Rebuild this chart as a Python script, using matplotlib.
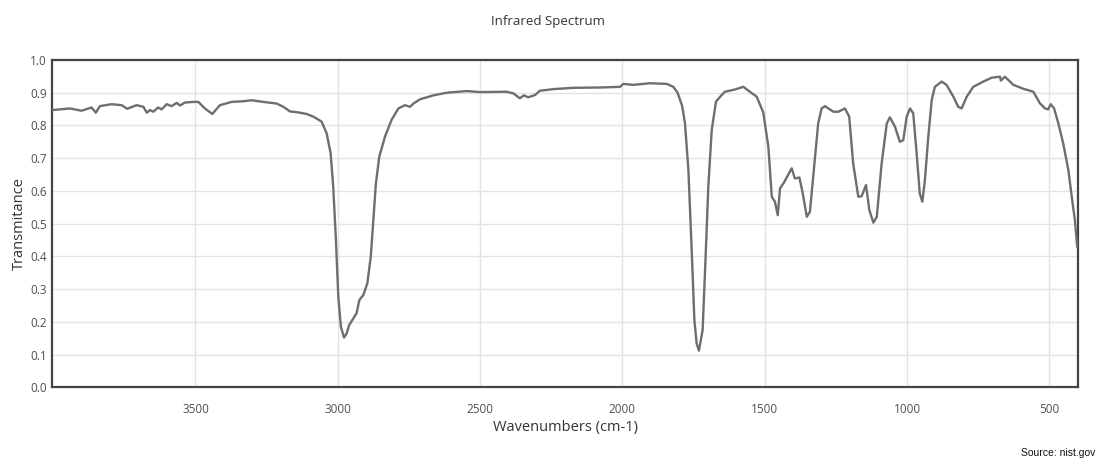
import matplotlib
matplotlib.use("Agg")
import matplotlib.pyplot as plt

wavenumbers = [4003, 3941, 3900, 3865, 3850, 3836, 3795, 3759, 3740, 3707, 3683, 3671, 3660, 3648,
               3631, 3619, 3601, 3584, 3566, 3554, 3537, 3508, 3490, 3467, 3441, 3414, 3373, 3332,
               3302, 3262, 3215, 3191, 3168, 3139, 3109, 3086, 3057, 3039, 3025, 3016, 3007, 2998,
               2989, 2978, 2969, 2960, 2945, 2934, 2924, 2910, 2896, 2884, 2875, 2866, 2854, 2834,
               2811, 2787, 2764, 2746, 2734, 2711, 2664, 2617, 2547, 2500, 2407, 2383, 2360, 2346,
               2331, 2307, 2290, 2243, 2173, 2079, 2008, 1997, 1962, 1903, 1844, 1821, 1806, 1790,
               1780, 1768, 1756, 1747, 1739, 1731, 1718, 1707, 1698, 1686, 1671, 1651, 1640, 1604,
               1575, 1552, 1528, 1505, 1487, 1475, 1464, 1454, 1446, 1434, 1405, 1394, 1378, 1366,
               1352, 1341, 1325, 1312, 1300, 1288, 1259, 1241, 1218, 1203, 1189, 1171, 1159, 1144,
               1132, 1118, 1106, 1089, 1071, 1060, 1042, 1025, 1013, 1001, 989, 978, 966, 955, 946,
               937, 925, 913, 902, 878, 861, 837, 820, 808, 790, 767, 732, 702, 673, 670, 656, 626,
               591, 556, 533, 515, 504, 495, 483, 468, 451, 433, 418, 410, 402]
transmittance = [0.847, 0.852, 0.845, 0.855, 0.839, 0.859, 0.865, 0.862, 0.851, 0.862, 0.857, 0.839,
                 0.847, 0.842, 0.855, 0.849, 0.865, 0.859, 0.869, 0.861, 0.870, 0.872, 0.872, 0.852,
                 0.835, 0.862, 0.872, 0.874, 0.877, 0.872, 0.867, 0.857, 0.843, 0.840, 0.835, 0.827,
                 0.812, 0.776, 0.715, 0.613, 0.460, 0.276, 0.185, 0.152, 0.164, 0.190, 0.211, 0.226,
                 0.267, 0.282, 0.318, 0.399, 0.511, 0.623, 0.705, 0.766, 0.817, 0.852, 0.862, 0.857,
                 0.867, 0.880, 0.892, 0.900, 0.905, 0.902, 0.903, 0.898, 0.883, 0.892, 0.886, 0.893,
                 0.906, 0.911, 0.915, 0.916, 0.918, 0.927, 0.924, 0.929, 0.927, 0.918, 0.900, 0.860,
                 0.807, 0.664, 0.410, 0.206, 0.134, 0.112, 0.175, 0.410, 0.613, 0.786, 0.873, 0.893,
                 0.903, 0.910, 0.918, 0.903, 0.888, 0.840, 0.735, 0.582, 0.567, 0.526, 0.608, 0.623,
                 0.669, 0.638, 0.641, 0.592, 0.521, 0.536, 0.684, 0.806, 0.852, 0.859, 0.842, 0.842,
                 0.852, 0.827, 0.684, 0.582, 0.584, 0.618, 0.541, 0.503, 0.521, 0.684, 0.806, 0.825,
                 0.796, 0.750, 0.755, 0.827, 0.852, 0.837, 0.715, 0.592, 0.567, 0.633, 0.766, 0.878,
                 0.918, 0.934, 0.924, 0.888, 0.857, 0.852, 0.888, 0.918, 0.934, 0.946, 0.949, 0.937,
                 0.949, 0.924, 0.912, 0.903, 0.868, 0.852, 0.849, 0.865, 0.852, 0.806, 0.745, 0.664,
                 0.562, 0.511, 0.430]

x_ticks = [3500, 3000, 2500, 2000, 1500, 1000, 500]
y_ticks = [0.0, 0.1, 0.2, 0.3, 0.4, 0.5, 0.6, 0.7, 0.8, 0.9, 1.0]

plt.rcParams['font.family'] = ['Open Sans', 'DejaVu Sans']

fig = plt.figure(figsize=(10.96, 4.58), dpi=100)
ax = fig.add_axes([52.3 / 1096, (458 - 387.3) / 458, 1026 / 1096, 327.3 / 458])

ax.plot(wavenumbers, transmittance, color='#6e6e6e', lw=1.7, solid_joinstyle='round', zorder=3)

ax.set_xlim(4003, 398)
ax.set_ylim(0, 1)
ax.set_xticks(x_ticks)
ax.set_xticklabels([str(t) for t in x_ticks])
ax.set_yticks(y_ticks)
ax.set_yticklabels([f"{t:.1f}" for t in y_ticks])
ax.grid(True, color='#e3e3e3', lw=1.0, zorder=0)
ax.tick_params(length=0, labelsize=8.5, labelcolor='#505050')
ax.tick_params(axis='x', pad=11)
ax.tick_params(axis='y', pad=4)
for s in ax.spines.values():
    s.set_color('#444444')
    s.set_linewidth(1.6)

ax.set_xlabel('Wavenumbers (cm-1)', fontsize=10.5, color='#333333', labelpad=3)
ax.set_ylabel('Transmitance', fontsize=10.5, color='#333333', labelpad=2)
fig.text(0.5, 1 - 21 / 458, 'Infrared Spectrum', ha='center', va='center', fontsize=9.5, color='#333333')
fig.text(0.999, 1 - 453 / 458, 'Source: nist.gov', ha='right', va='center', fontsize=7.5,
         color='#111111', family='Liberation Sans')

fig.savefig('out.png', dpi=100)
